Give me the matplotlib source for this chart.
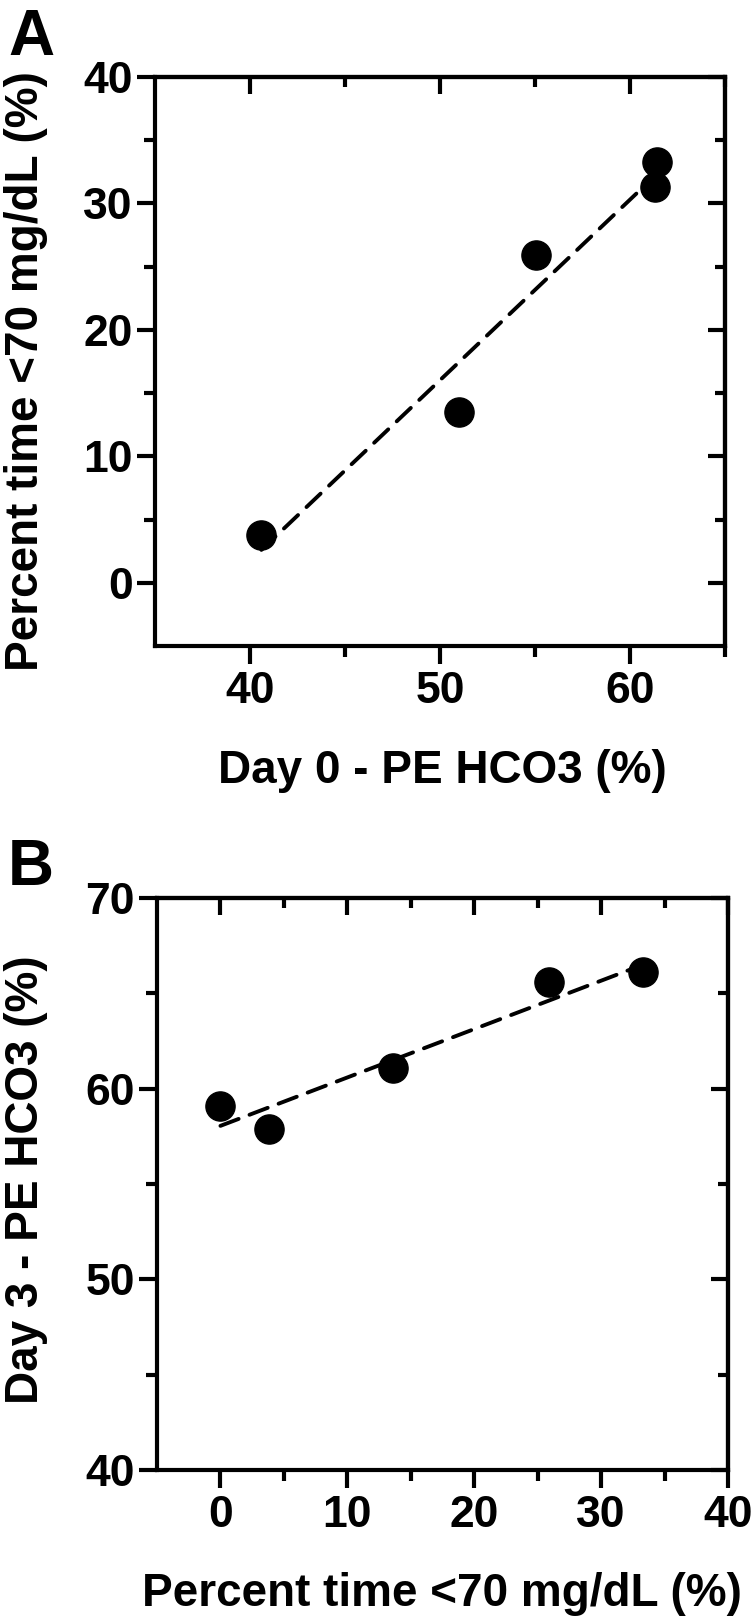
import matplotlib
matplotlib.use("Agg")
import matplotlib.pyplot as plt
from matplotlib.ticker import FixedLocator

# ---- data ----
a_x = [40.6, 51.0, 55.05, 61.3, 61.4]      # Day 0 - PE HCO3 (%)
a_y = [3.8, 13.5, 25.9, 31.3, 33.3]        # Percent time <70 mg/dL (%)
a_fit_x = [40.6, 61.4]
a_fit_y = [2.6, 32.3]

b_x = [0.0, 3.8, 13.6, 25.9, 33.3]         # Percent time <70 mg/dL (%)
b_y = [59.1, 57.9, 61.1, 65.6, 66.1]       # Day 3 - PE HCO3 (%)
b_fit_x = [0.0, 33.3]
b_fit_y = [58.05, 66.5]

a_xlim = (35, 65); a_ylim = (-5, 40)
a_xmajor = [40, 50, 60]; a_xminor = [45, 55, 65]
a_ymajor = [0, 10, 20, 30, 40]; a_yminor = [5, 15, 25, 35]

b_xlim = (-5, 40); b_ylim = (40, 70)
b_xmajor = [0, 10, 20, 30, 40]; b_xminor = [5, 15, 25, 35]
b_ymajor = [40, 50, 60, 70]; b_yminor = [45, 55, 65]

a_xlabel = "Day 0 - PE HCO3 (%)"
a_ylabel = "Percent time <70 mg/dL (%)"
b_xlabel = "Percent time <70 mg/dL (%)"
b_ylabel = "Day 3 - PE HCO3 (%)"

plt.rcParams['font.family'] = ['Liberation Sans', 'DejaVu Sans']
plt.rcParams['font.weight'] = 'bold'

W, H = 756, 1623
fig = plt.figure(figsize=(W / 100, H / 100), dpi=100)

LW = 3.0
TICK_FS = 32
LABEL_FS = 33


def frac(left, top, right, bottom):
    return [left / W, 1 - bottom / H, (right - left) / W, (bottom - top) / H]


def style(ax, xlim, ylim, xmaj, xmin, ymaj, ymin):
    ax.set_xlim(*xlim)
    ax.set_ylim(*ylim)
    for s in ax.spines.values():
        s.set_linewidth(LW)
    ax.xaxis.set_major_locator(FixedLocator(xmaj))
    ax.xaxis.set_minor_locator(FixedLocator(xmin))
    ax.yaxis.set_major_locator(FixedLocator(ymaj))
    ax.yaxis.set_minor_locator(FixedLocator(ymin))
    ax.tick_params(which='major', direction='out', length=13, width=LW,
                   labelsize=TICK_FS)
    ax.tick_params(which='minor', direction='out', length=8, width=LW)
    ax.tick_params(axis='x', which='major', pad=5)
    ax.tick_params(axis='y', which='major', pad=3)
    for lab in ax.get_xticklabels() + ax.get_yticklabels():
        lab.set_fontweight('bold')
    # mirrored inward ticks on top and right
    top = ax.secondary_xaxis('top')
    top.xaxis.set_major_locator(FixedLocator(xmaj))
    top.xaxis.set_minor_locator(FixedLocator(xmin))
    top.tick_params(which='major', direction='in', length=12, width=LW,
                    labeltop=False)
    top.tick_params(which='minor', direction='in', length=7, width=LW)
    top.spines['top'].set_linewidth(LW)
    right = ax.secondary_yaxis('right')
    right.yaxis.set_major_locator(FixedLocator(ymaj))
    right.yaxis.set_minor_locator(FixedLocator(ymin))
    right.tick_params(which='major', direction='in', length=12, width=LW,
                      labelright=False)
    right.tick_params(which='minor', direction='in', length=7, width=LW)
    right.spines['right'].set_linewidth(LW)


# ---- Panel A ----
axA = fig.add_axes(frac(155, 77, 725, 646))
style(axA, a_xlim, a_ylim, a_xmajor, a_xminor, a_ymajor, a_yminor)
axA.plot(a_fit_x, a_fit_y, color='black', lw=2.8, dashes=(5.0, 3.0),
         dash_capstyle='round', zorder=2)
axA.plot(a_x, a_y, 'o', color='black', ms=21, zorder=3)

# ---- Panel B ----
axB = fig.add_axes(frac(157, 898, 728, 1470))
style(axB, b_xlim, b_ylim, b_xmajor, b_xminor, b_ymajor, b_yminor)
axB.plot(b_fit_x, b_fit_y, color='black', lw=2.8, dashes=(5.0, 3.0),
         dash_capstyle='round', zorder=2)
axB.plot(b_x, b_y, 'o', color='black', ms=21, zorder=3)

# ---- labels (placed in pixels) ----
def ftext(x, y, s, **kw):
    fig.text(x / W, 1 - y / H, s, fontweight='bold', **kw)

ftext(442, 771, a_xlabel, fontsize=LABEL_FS, ha='center', va='center')
ftext(26, 371, a_ylabel, fontsize=LABEL_FS, ha='center', va='center',
      rotation=90)
ftext(442, 1594, b_xlabel, fontsize=LABEL_FS, ha='center', va='center')
ftext(26, 1180, b_ylabel, fontsize=LABEL_FS, ha='center', va='center',
      rotation=90)

ftext(8, 8, "A", fontsize=46, ha='left', va='top')
ftext(8, 838, "B", fontsize=46, ha='left', va='top')

fig.savefig("out.png", dpi=100)
